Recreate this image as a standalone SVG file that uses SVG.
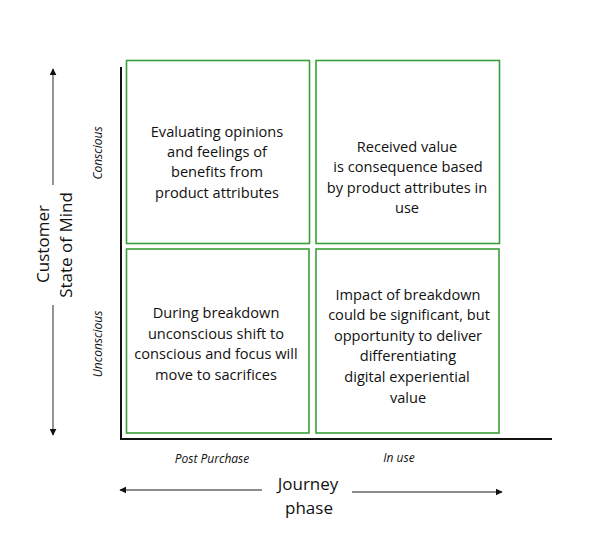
<svg xmlns="http://www.w3.org/2000/svg" width="598" height="550" viewBox="0 0 598 550">
<style>
.box{fill:#fff;stroke:#3a9e3a;stroke-width:1.6}
.t{font-family:"Open Sans","Liberation Sans",sans-serif;font-size:14.6px;fill:#111;text-anchor:middle}
.lbl{font-family:"Open Sans","Liberation Sans",sans-serif;font-size:12px;font-style:italic;fill:#111;text-anchor:middle}
.big{font-family:"Open Sans","Liberation Sans",sans-serif;font-size:17px;fill:#111;text-anchor:middle}
.axis{stroke:#111;stroke-width:2;fill:none}
.arr{stroke:#666;stroke-width:1.4;fill:none}
</style>
<defs>
<marker id="ah" viewBox="0 0 10 10" refX="9" refY="5" markerWidth="7" markerHeight="7" markerUnits="userSpaceOnUse" orient="auto"><path d="M0,0 L10,5 L0,10 Z" fill="#111"/></marker>
</defs>
<rect width="598" height="550" fill="#fff"/>
<g id="axes">
<path class="axis" d="M121,67 V439 H552"/>
</g>
<g id="connectors">
<line class="arr" x1="53" y1="185" x2="53" y2="69" marker-end="url(#ah)"/>
<line class="arr" x1="53" y1="305" x2="53" y2="435" marker-end="url(#ah)"/>
<line class="arr" x1="262" y1="490" x2="120" y2="490" marker-end="url(#ah)"/>
<line class="arr" x1="352" y1="492" x2="502" y2="492" marker-end="url(#ah)" stroke="#888" stroke-width="1.8"/>
</g>
<g id="box-tl">
<rect class="box" x="126.5" y="60.5" width="183" height="183"/>
<text class="t" x="217" y="137">Evaluating opinions</text>
<text class="t" x="217" y="157">and feelings of</text>
<text class="t" x="217" y="177">benefits from</text>
<text class="t" x="217" y="198">product attributes</text>
</g>
<g id="box-tr">
<rect class="box" x="316" y="60.5" width="183.5" height="183"/>
<text class="t" x="407" y="152">Received value</text>
<text class="t" x="408" y="172">is consequence based</text>
<text class="t" x="407" y="193">by product attributes in</text>
<text class="t" x="407" y="213">use</text>
</g>
<g id="box-bl">
<rect class="box" x="126.5" y="249" width="182.5" height="184"/>
<text class="t" x="216" y="318">During breakdown</text>
<text class="t" x="216" y="339">unconscious shift to</text>
<text class="t" x="216" y="359">conscious and focus will</text>
<text class="t" x="216" y="380">move to sacrifices</text>
</g>
<g id="box-br">
<rect class="box" x="316" y="249" width="183" height="184"/>
<text class="t" x="408" y="300">Impact of breakdown</text>
<text class="t" x="409" y="320">could be significant, but</text>
<text class="t" x="408" y="341">opportunity to deliver</text>
<text class="t" x="408" y="361">differentiating</text>
<text class="t" x="407" y="382">digital experiential</text>
<text class="t" x="408" y="403">value</text>
</g>
<g id="y-labels">
<text class="lbl" transform="translate(102,153) rotate(-90)">Conscious</text>
<text class="lbl" transform="translate(102,344) rotate(-90)">Unconscious</text>
<text class="big" transform="translate(49,244) rotate(-90)">Customer</text>
<text class="big" transform="translate(72,245) rotate(-90)">State of Mind</text>
</g>
<g id="x-labels">
<text class="lbl" x="212" y="463">Post Purchase</text>
<text class="lbl" x="399" y="462">In use</text>
<text class="big" x="308" y="490">Journey</text>
<text class="big" x="309" y="514">phase</text>
</g>
</svg>
